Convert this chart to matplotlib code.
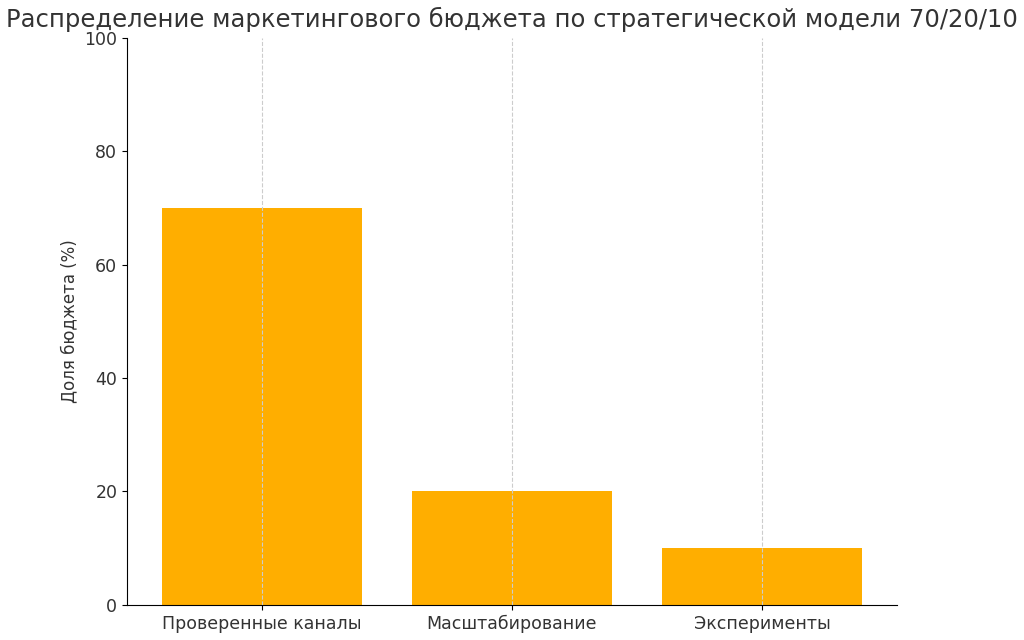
import matplotlib
matplotlib.use("Agg")
import matplotlib.pyplot as plt

categories = ["Проверенные каналы", "Масштабирование", "Эксперименты"]
shares = [70, 20, 10]

fig = plt.figure(figsize=(10.24, 6.4), dpi=100)
ax = fig.add_axes([0.124, 0.055, 0.752, 0.886])

ax.bar(categories, shares, width=0.8, color="#FFAE00")
ax.set_xlim(-0.54, 2.54)
ax.set_ylim(0, 100)
ax.set_ylabel("Доля бюджета (%)", fontsize=12, color="#333333")
ax.set_title("Распределение маркетингового бюджета по стратегической модели 70/20/10",
             fontsize=17.5, color="#333333", pad=8)
ax.tick_params(labelsize=12.5, labelcolor="#333333")
ax.set_axisbelow(False)
ax.grid(axis="x", linestyle="--", color="#cccccc", linewidth=0.8)
for s in ("top", "right"):
    ax.spines[s].set_visible(False)

fig.savefig("out.png", dpi=100)
